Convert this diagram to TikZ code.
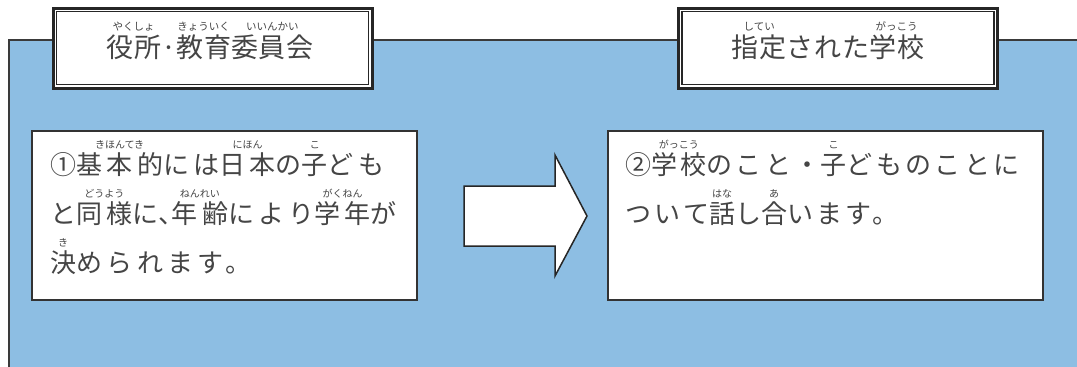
\documentclass[tikz,border=0pt]{standalone}
\usepackage{fontspec}
\newfontfamily\jpa[LetterSpace=17]{Noto Sans CJK JP}
\newfontfamily\jph[LetterSpace=17,RawFeature=+halt]{Noto Sans CJK JP}
\newfontfamily\jpb[LetterSpace=13]{Noto Sans CJK JP}
\newfontfamily\jpt[LetterSpace=3]{Noto Sans CJK JP}
\newfontfamily\rubyfont{Noto Sans CJK JP}
\newlength\rubyraise
\setlength\rubyraise{26pt}
\newcommand\rubysz{10pt}
\newcommand\rb[2]{\leavevmode\setbox0=\hbox{#1}\rlap{\hbox to\wd0{\hss\raisebox{\rubyraise}{\rubyfont\fontsize{\rubysz}{\rubysz}\selectfont #2}\hss}}\box0}
\definecolor{panelblue}{HTML}{8DBEE3}
\definecolor{linegray}{HTML}{3A3A3A}
\definecolor{framegray}{HTML}{262626}
\definecolor{boxgray}{HTML}{333333}
\definecolor{textgray}{HTML}{454545}
\tikzset{
  panel/.style={fill=panelblue, draw=linegray, line width=2pt},
  titleframe/.style={draw=framegray, line width=3pt, fill=white, inner sep=0, minimum width=319pt, minimum height=80pt},
  innerframe/.style={draw=framegray, line width=1.5pt},
  textbox/.style={draw=boxgray, line width=2.5pt, fill=white, inner sep=0, minimum height=169pt},
  arrowshape/.style={draw=black!85, line width=1.5pt, fill=white, line join=miter},
  txta/.style={inner sep=0, anchor=base west, text=textgray, font=\fontsize{26pt}{30pt}\jpa},
  txtb/.style={inner sep=0, anchor=base west, text=textgray, font=\fontsize{26pt}{30pt}\jpb},
  ttl/.style={inner sep=0, anchor=base, text=textgray, font=\fontsize{27pt}{30pt}\jpt\setlength\rubyraise{27pt}\renewcommand\rubysz{10.5pt}},
}
\begin{document}
\begin{tikzpicture}[x=1pt,y=-1pt]
\useasboundingbox (0,0) rectangle (1077,367);
\clip (0,0) rectangle (1077,367);
\fill[white] (0,0) rectangle (1077,367);
% blue panel
\draw[panel] (9,40) rectangle (1100,400);
% title boxes
\node[titleframe] (t1) at (212.5,48) {};
\draw[innerframe] ([shift={(5,5)}]t1.north west) rectangle ([shift={(-5,-5)}]t1.south east);
\node[titleframe] (t2) at (838,48) {};
\draw[innerframe] ([shift={(5,5)}]t2.north west) rectangle ([shift={(-5,-5)}]t2.south east);
\node[ttl] (t1text) at (210,57) {\rb{役所}{やくしょ}·\rb{教育}{きょういく}\rb{委員会}{いいんかい}};
\node[ttl] (t2text) at (828,57) {\rb{指定}{してい}された\rb{学校}{がっこう}};
% text boxes
\node[textbox, minimum width=385pt] (b1) at (224.5,215.5) {};
\node[textbox, minimum width=435pt] (b2) at (825.5,215.5) {};
\node[txta] (b1l1) at (50,174) {①\rb{基本的}{きほんてき}には\rb{日本}{にほん}の\rb{子}{こ}ども};
\node[txta] (b1l2) at (50,223) {と\rb{同様}{どうよう}に{\jph 、}\rb{年齢}{ねんれい}により\rb{学年}{がくねん}が};
\node[txta] (b1l3) at (50,272) {\rb{決}{き}められます。};
\node[txtb] (b2l1) at (625,174) {②\rb{学校}{がっこう}のこと・\rb{子}{こ}どものことに};
\node[txtb] (b2l2) at (625,223) {ついて\rb{話}{はな}し\rb{合}{あ}います。};
% arrow
\draw[arrowshape] (464,186) -- (555,186) -- (555,155) -- (587,216) -- (555,276) -- (555,246) -- (464,246) -- cycle;
\end{tikzpicture}
\end{document}
